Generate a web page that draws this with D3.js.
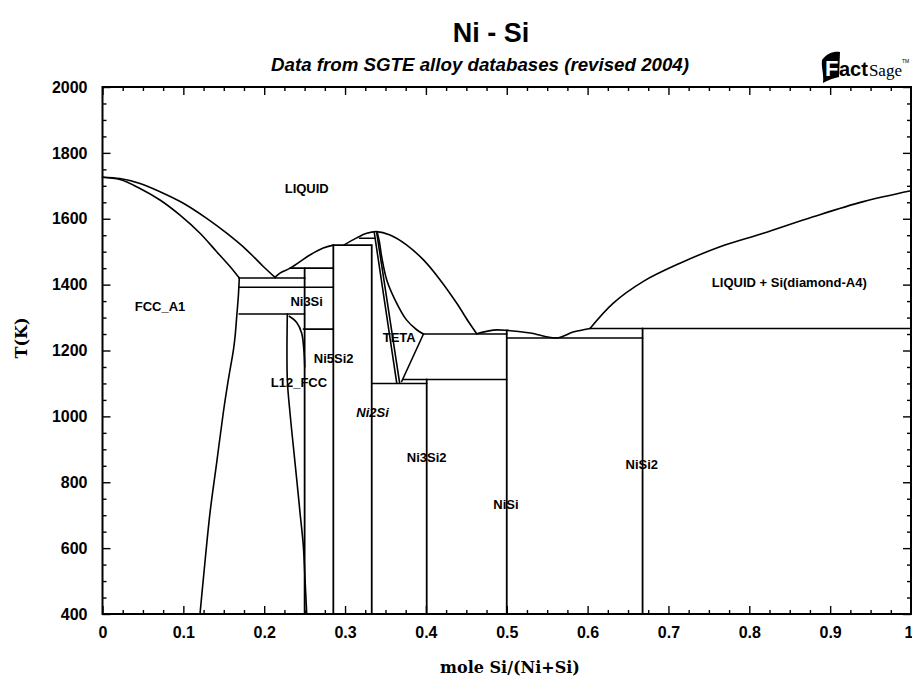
<!DOCTYPE html>
<html>
<head>
<meta charset="utf-8">
<script src="https://cdn.jsdelivr.net/npm/d3@7/dist/d3.min.js"></script>
<style>
  html, body { margin: 0; padding: 0; background: #fff; }
  svg { display: block; }
</style>
</head>
<body>
<svg id="chart" width="912" height="678"></svg>
<script>
// ---- Axis ticks -------------------------------------------------------------
const xMajorTicks = [0, 0.1, 0.2, 0.3, 0.4, 0.5, 0.6, 0.7, 0.8, 0.9, 1];
const xTickLabels = ["0", "0.1", "0.2", "0.3", "0.4", "0.5", "0.6", "0.7", "0.8", "0.9", "1"];
const yMajorTicks = [400, 600, 800, 1000, 1200, 1400, 1600, 1800, 2000];
const yTickLabels = ["400", "600", "800", "1000", "1200", "1400", "1600", "1800", "2000"];

// ---- Phase boundaries: [mole fraction Si, T(K)] -------------------------------
const liquidusNi = [[0, 1726], [0.0216, 1722], [0.0464, 1707], [0.0711, 1682], [0.1, 1647],
  [0.1289, 1601], [0.1536, 1556], [0.1784, 1505], [0.1989, 1455], [0.2134, 1422]];
const solidusFcc = [[0, 1726], [0.0216, 1719], [0.0464, 1692], [0.0711, 1657], [0.0959, 1611],
  [0.1206, 1556], [0.1412, 1500], [0.1577, 1455], [0.1692, 1420]];
const solvusFcc = [[0.1692, 1420], [0.1680, 1364], [0.1660, 1303], [0.1640, 1243], [0.1620, 1203],
  [0.1557, 1112], [0.1494, 1011], [0.1412, 859], [0.133, 708], [0.1247, 506], [0.1206, 400]];
const liquidusNi3Si = [[0.2134, 1422], [0.2195, 1435], [0.232, 1450], [0.2566, 1490],
  [0.273, 1511], [0.2855, 1520]];
const liquidusNi2Si = [[0.2985, 1520], [0.3144, 1542], [0.3268, 1556], [0.339, 1561],
  [0.3556, 1551], [0.376, 1521], [0.397, 1475], [0.4174, 1415], [0.438, 1344],
  [0.4525, 1288], [0.4628, 1251]];
const tetaSolidus = [[0.340, 1557], [0.3425, 1530], [0.3453, 1485], [0.3515, 1415],
  [0.3618, 1354], [0.376, 1293], [0.3886, 1263], [0.397, 1250]];
const tetaLeftA = [[0.3362, 1557], [0.3639, 1102]];
const tetaLeftB = [[0.3392, 1557], [0.3675, 1102]];
const tetaRight = [[0.397, 1250], [0.370, 1106]];
const l12Left = [[0.2286, 1311], [0.2286, 1112], [0.2319, 1011], [0.236, 910], [0.2402, 809],
  [0.2443, 708], [0.2484, 607], [0.2505, 506], [0.2526, 400]];
const ni3SiLow = [[0.231, 1304], [0.240, 1286], [0.2463, 1253], [0.249, 1203], [0.2502, 1150]];
const liquidusNiSi = [[0.4628, 1251], [0.4834, 1262], [0.5007, 1261], [0.529, 1253],
  [0.5617, 1238], [0.582, 1256], [0.603, 1267]];
const liquidusSi = [[0.603, 1267], [0.6318, 1344], [0.669, 1410], [0.7143, 1465],
  [0.7638, 1515], [0.8173, 1556], [0.879, 1606], [0.941, 1652], [1.0, 1685]];

// Invariant isotherms: [x from, x to, T]
const isotherms = [
  [0.169, 0.2505, 1420], [0.169, 0.2855, 1392], [0.169, 0.25, 1311],
  [0.232, 0.2855, 1450], [0.2485, 0.2855, 1265], [0.2855, 0.333, 1520],
  [0.318, 0.336, 1541], [0.333, 0.401, 1100], [0.372, 0.5, 1112],
  [0.397, 0.5, 1250], [0.5, 0.668, 1238], [0.603, 1.0, 1267]
];
// Stoichiometric compounds: [x, T top, T bottom]
const compounds = [
  [0.25, 1450, 400], [0.2855, 1520, 400], [0.333, 1520, 400],
  [0.401, 1112, 400], [0.5, 1261, 400], [0.668, 1267, 400]
];

// Phase-field labels: [text, x, T, italic]
const phaseLabels = [
  ["LIQUID", 0.2526, 1692, false],
  ["FCC_A1", 0.0711, 1334, false],
  ["Ni3Si", 0.2525, 1349, false],
  ["Ni5Si2", 0.286, 1177, false],
  ["L12_FCC", 0.243, 1104, false],
  ["TETA", 0.367, 1241, false],
  ["Ni2Si", 0.334, 1011, true],
  ["Ni3Si2", 0.401, 875, false],
  ["NiSi", 0.499, 733, false],
  ["NiSi2", 0.667, 854, false],
  ["LIQUID + Si(diamond-A4)", 0.8495, 1406, false]
];

// ---- Layout -----------------------------------------------------------------
const svg = d3.select("#chart");
const plotLeft = 102.5, plotRight = 911, plotTop = 87, plotBottom = 614;
const x = d3.scaleLinear().domain([0, 1]).range([plotLeft, plotRight]);
const y = d3.scaleLinear().domain([400, 2000]).range([plotBottom, plotTop]);

const xMinor = d3.range(0, 1.0001, 0.025).filter(v => Math.abs(v * 10 - Math.round(v * 10)) > 1e-6);
const yMinor = d3.range(400, 2001, 50).filter(v => v % 200 !== 0);

const sans = "'Liberation Sans', Arial, sans-serif";
const serif = "'DejaVu Serif', 'Liberation Serif', serif";

// Titles
svg.append("text").attr("x", 491).attr("y", 42).attr("text-anchor", "middle")
  .attr("font-family", sans).attr("font-weight", "bold").attr("font-size", 27)
  .text("Ni - Si");
svg.append("text").attr("x", 480).attr("y", 71).attr("text-anchor", "middle")
  .attr("font-family", sans).attr("font-weight", "bold").attr("font-style", "italic")
  .attr("font-size", 18).attr("textLength", 418).attr("lengthAdjust", "spacingAndGlyphs")
  .text("Data from SGTE alloy databases (revised 2004)");

// FactSage mark: black flag with a white F, then the word mark in one text run
const logo = svg.append("g").attr("transform", "translate(821,76)");
logo.append("path")
  .attr("d", "M1,-16 C6,-23 13,-25 19,-24 L18,1 C13,2 7,4 2,7 C3,-2 0,-9 1,-16 Z")
  .attr("fill", "#000");
logo.append("text").attr("x", 4).attr("y", 0).attr("font-family", sans).attr("font-weight", "bold")
  .attr("font-size", 22).attr("fill", "#fff").text("F");
const word = logo.append("text").attr("x", 18).attr("y", 0);
word.append("tspan").attr("font-family", sans).attr("font-weight", "bold")
  .attr("font-size", 20).text("act");
word.append("tspan").attr("font-family", "'Liberation Serif', serif")
  .attr("font-size", 17).attr("dx", 1).text("Sage");
word.append("tspan").attr("font-family", sans).attr("font-size", 5)
  .attr("dy", -13).text("TM");

// Axes (ticks point inwards on all four sides)
function styleAxis(g) {
  g.select(".domain").remove();
  g.selectAll("line").attr("stroke", "#000").attr("stroke-width", 1.4);
  g.selectAll("text").attr("font-family", sans).attr("font-weight", "bold")
    .attr("font-size", 16).attr("fill", "#000");
}
svg.append("g").attr("transform", `translate(0,${plotBottom})`)
  .call(d3.axisBottom(x).tickValues(xMajorTicks).tickSizeInner(-8).tickSizeOuter(0)
    .tickPadding(13).tickFormat((d, i) => xTickLabels[i]))
  .call(styleAxis)
  .call(g => g.selectAll(".tick:last-of-type text").attr("text-anchor", "end").attr("dx", 2));
svg.append("g").attr("transform", `translate(0,${plotBottom})`)
  .call(d3.axisBottom(x).tickValues(xMinor).tickSizeInner(-4).tickSizeOuter(0).tickFormat(""))
  .call(styleAxis);
svg.append("g").attr("transform", `translate(0,${plotTop})`)
  .call(d3.axisTop(x).tickValues(xMajorTicks).tickSizeInner(-8).tickSizeOuter(0).tickFormat(""))
  .call(styleAxis);
svg.append("g").attr("transform", `translate(0,${plotTop})`)
  .call(d3.axisTop(x).tickValues(xMinor).tickSizeInner(-4).tickSizeOuter(0).tickFormat(""))
  .call(styleAxis);
svg.append("g").attr("transform", `translate(${plotLeft},0)`)
  .call(d3.axisLeft(y).tickValues(yMajorTicks).tickSizeInner(-8).tickSizeOuter(0)
    .tickPadding(15).tickFormat((d, i) => yTickLabels[i]))
  .call(styleAxis);
svg.append("g").attr("transform", `translate(${plotLeft},0)`)
  .call(d3.axisLeft(y).tickValues(yMinor).tickSizeInner(-4).tickSizeOuter(0).tickFormat(""))
  .call(styleAxis);
svg.append("g").attr("transform", `translate(${plotRight},0)`)
  .call(d3.axisRight(y).tickValues(yMajorTicks).tickSizeInner(-8).tickSizeOuter(0).tickFormat(""))
  .call(styleAxis);
svg.append("g").attr("transform", `translate(${plotRight},0)`)
  .call(d3.axisRight(y).tickValues(yMinor).tickSizeInner(-4).tickSizeOuter(0).tickFormat(""))
  .call(styleAxis);

// Plot frame
svg.append("rect").attr("x", plotLeft).attr("y", plotTop)
  .attr("width", plotRight - plotLeft).attr("height", plotBottom - plotTop)
  .attr("fill", "none").attr("stroke", "#000").attr("stroke-width", 2);

// Axis titles
svg.append("text").attr("x", 510).attr("y", 673).attr("text-anchor", "middle")
  .attr("font-family", serif).attr("font-weight", "bold").attr("font-size", 16)
  .text("mole Si/(Ni+Si)");
svg.append("text").attr("transform", "translate(27,338) rotate(-90)").attr("text-anchor", "middle")
  .attr("font-family", serif).attr("font-weight", "bold").attr("font-size", 16)
  .text("T(K)");

// Phase boundaries
const plot = svg.append("g").attr("fill", "none").attr("stroke", "#000")
  .attr("stroke-linejoin", "round").attr("stroke-linecap", "round");
const smooth = d3.line().x(d => x(d[0])).y(d => y(d[1])).curve(d3.curveCatmullRom.alpha(0.5));
const straight = d3.line().x(d => x(d[0])).y(d => y(d[1]));

[liquidusNi, solidusFcc, solvusFcc, liquidusNi3Si, liquidusNi2Si, tetaSolidus,
 l12Left, ni3SiLow, liquidusNiSi, liquidusSi].forEach(c => {
  plot.append("path").attr("d", smooth(c)).attr("stroke-width", 1.6);
});
[tetaLeftA, tetaLeftB, tetaRight].forEach(c => {
  plot.append("path").attr("d", straight(c)).attr("stroke-width", 1.6);
});
isotherms.forEach(([x0, x1, t]) => {
  plot.append("line").attr("x1", x(x0)).attr("x2", x(x1)).attr("y1", y(t)).attr("y2", y(t))
    .attr("stroke-width", 1.6);
});
compounds.forEach(([xc, t0, t1]) => {
  plot.append("line").attr("x1", x(xc)).attr("x2", x(xc)).attr("y1", y(t0)).attr("y2", y(t1))
    .attr("stroke-width", 1.8);
});

// Phase labels
svg.append("g").selectAll("text").data(phaseLabels).join("text")
  .attr("x", d => x(d[1])).attr("y", d => y(d[2])).attr("dy", "0.35em")
  .attr("text-anchor", "middle")
  .attr("font-family", sans).attr("font-weight", "bold").attr("font-size", 13)
  .attr("font-style", d => d[3] ? "italic" : "normal")
  .text(d => d[0]);
</script>
</body>
</html>
